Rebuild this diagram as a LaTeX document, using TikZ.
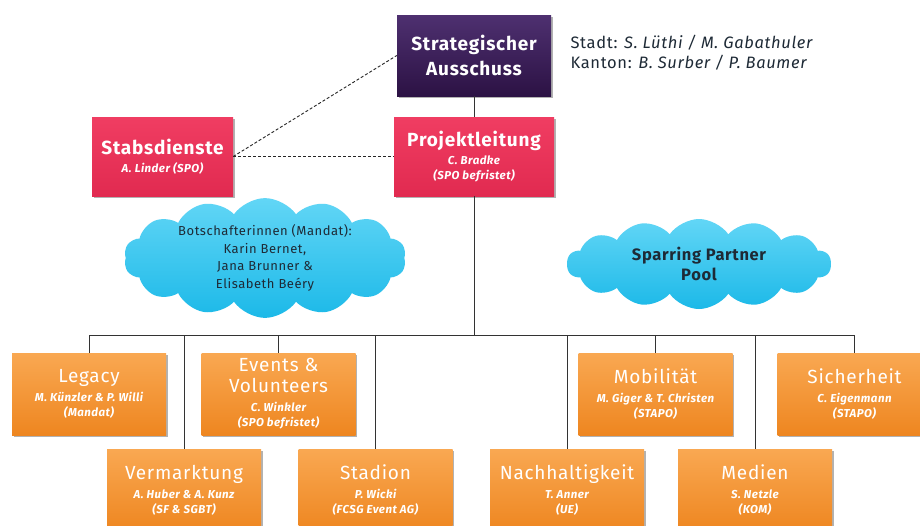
\documentclass[tikz,border=0pt]{standalone}
\usepackage{fontspec}
\setmainfont[LetterSpace=4]{Fira Sans}
\usetikzlibrary{shapes.symbols,shadows}
\definecolor{purpT}{HTML}{4E3070}
\definecolor{purpB}{HTML}{2C1244}
\definecolor{pinkT}{HTML}{F03D62}
\definecolor{pinkB}{HTML}{E12A50}
\definecolor{oranT}{HTML}{F9A852}
\definecolor{oranB}{HTML}{EE8620}
\definecolor{cyanT}{HTML}{62D6F6}
\definecolor{cyanB}{HTML}{1CB9E8}
\definecolor{linec}{HTML}{333333}
\definecolor{txtd}{HTML}{1E2A36}
\tikzset{
  basebox/.style={inner sep=0pt, align=center, text=white,
    font=\fontsize{11.5}{15}\selectfont\bfseries\itshape,
    drop shadow={shadow xshift=1.5pt, shadow yshift=-1.5pt, opacity=0.3, fill=black}},
  purpbox/.style={basebox, top color=purpT, bottom color=purpB},
  pinkbox/.style={basebox, top color=pinkT, bottom color=pinkB},
  oranbox/.style={basebox, top color=oranT, bottom color=oranB, minimum width=154pt, minimum height=82pt},
  cloudbox/.style={cloud, cloud puffs=14, cloud puff arc=110, cloud ignores aspect,
    top color=cyanT, bottom color=cyanB, inner sep=0pt, align=center, text=txtd},
  conn/.style={draw=linec, line width=0.9pt},
  dconn/.style={draw=black!85, line width=0.9pt, dash pattern=on 3pt off 2pt},
}
\newcommand{\ttl}{\fontsize{19}{23}\selectfont\upshape\mdseries}
\newcommand{\btl}{\fontsize{19}{23}\selectfont\upshape\bfseries}
\begin{document}
\begin{tikzpicture}[x=1pt,y=-1pt]
\useasboundingbox (0,0) rectangle (920,525);
\fill[white] (0,0) rectangle (920,525);
\clip (0,0) rectangle (920,525);

% top
\node[purpbox, minimum width=154pt, minimum height=81pt, font=\fontsize{19}{25}\selectfont\bfseries] (sa) at (474,55.5) {Strategischer\\Ausschuss};
\node[pinkbox, minimum width=160pt, minimum height=79pt] (pl) at (474,156.5)
  {\raisebox{0pt}[0pt][0pt]{}{\btl Projektleitung}\\[3pt]C. Bradke\\(SPO befristet)};
\node[pinkbox, minimum width=141pt, minimum height=79pt] (stab) at (162.5,156.5)
  {{\btl Stabsdienste}\\[3pt]A. Linder (SPO)};

\node[anchor=west, align=left, text=txtd, font=\fontsize{16.5}{20}\selectfont] (names) at (567,52.5)
  {Stadt: \textit{S. Lüthi / M. Gabathuler}\\Kanton: \textit{B. Surber / P. Baumer}};

% clouds
\node[cloudbox, minimum width=282pt, minimum height=92pt, font=\fontsize{13}{17.5}\selectfont] (botsch) at (265,258)
  {Botschafterinnen (Mandat):\\Karin Bernet,\\Jana Brunner \&\\Elisabeth Beéry};
\node[cloudbox, minimum width=264pt, minimum height=90pt, font=\fontsize{16.5}{20}\selectfont\bfseries] (spar) at (699,264)
  {Sparring Partner\\Pool};

% bottom boxes row 1
\node[oranbox] (legacy) at (89,394)
  {{\ttl Legacy}\\[4pt]M. Künzler \& P. Willi\\(Mandat)};
\node[oranbox] (events) at (278.5,394)
  {{\ttl Events \&}\\[6pt]{\ttl Volunteers}\\[4pt]C. Winkler\\(SPO befristet)};
\node[oranbox] (mobil) at (655.5,394)
  {{\ttl Mobilität}\\[4pt]M. Giger \& T. Christen\\(STAPO)};
\node[oranbox] (sich) at (854.5,394)
  {{\ttl Sicherheit}\\[4pt]C. Eigenmann\\(STAPO)};
% row 2
\node[oranbox] (verm) at (184,490)
  {{\ttl Vermarktung}\\[4pt]A. Huber \& A. Kunz\\(SF \& SGBT)};
\node[oranbox] (stadion) at (375.5,490)
  {{\ttl Stadion}\\[4pt]P. Wicki\\(FCSG Event AG)};
\node[oranbox] (nach) at (567,490)
  {{\ttl Nachhaltigkeit}\\[4pt]T. Anner\\(UE)};
\node[oranbox] (medien) at (755,490)
  {{\ttl Medien}\\[4pt]S. Netzle\\(KOM)};

% connectors
\coordinate (bus) at (474,335);
\draw[conn] (sa.south) -- (pl.north);
\draw[dconn] (stab.east) -- (pl.west);
\draw[dconn] (stab.east) -- (sa.west);
\draw[conn] (pl.south) -- (bus);
\draw[conn] (legacy.north |- bus) -- (sich.north |- bus);
\foreach \n in {legacy,events,mobil,sich,verm,stadion,nach,medien}
  \draw[conn] (\n.north |- bus) -- (\n.north);
\end{tikzpicture}
\end{document}
